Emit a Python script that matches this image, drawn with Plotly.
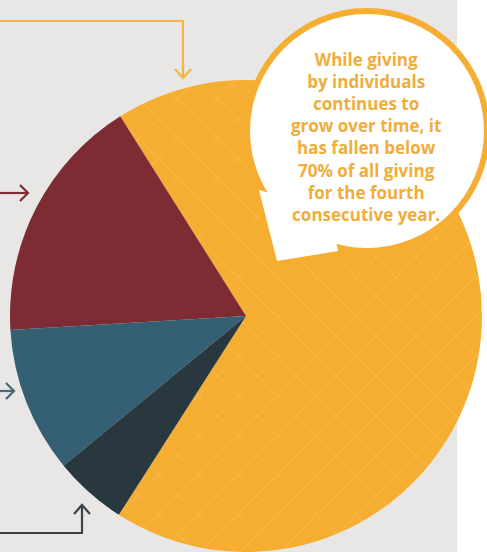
import plotly.graph_objects as go

# Data
categories = ["Individuals", "Foundations", "Bequests", "Corporations"]
shares = [68, 17, 10, 5]
slice_colors = ["#f6ae32", "#7e2b33", "#355f72", "#29373f"]
patterns = ["x", "", "", ""]
callout_lines = ["While giving", "by individuals", "continues to", "grow over time, it",
                 "has fallen below", "70% of all giving", "for the fourth", "consecutive year."]

W, H = 487, 552
YEL = "#f6ae32"

fig = go.Figure()
fig.add_trace(go.Pie(
    labels=categories, values=shares, sort=False,
    direction="counterclockwise", rotation=327.8,
    marker=dict(colors=slice_colors, line=dict(width=0),
                pattern=dict(shape=patterns, fgcolor="#fcc764", fgopacity=0.7,
                             bgcolor=slice_colors, size=28, solidity=0.05)),
    textinfo="none", hoverinfo="skip", showlegend=False,
    domain=dict(x=[10 / W, 482 / W], y=[0, 1 - 80 / H]),
))

def px(x):
    return x / W

def py(y):
    return 1 - y / H

shapes = []
# background grey panel
shapes.append(dict(type="rect", xref="paper", yref="paper", x0=0, x1=px(457), y0=0, y1=1,
                   fillcolor="#e8e7e5", line=dict(width=0), layer="below"))

def path(points):
    return "M " + " L ".join(f"{px(x):.5f},{py(y):.5f}" for x, y in points)

def line_shape(points, color):
    shapes.append(dict(type="path", xref="paper", yref="paper", path=path(points),
                       line=dict(color=color, width=2.2), layer="below"))

# yellow arrow (top)
line_shape([(0, 21), (183, 21), (183, 77)], "#f5b445")
line_shape([(175, 69), (183, 78), (191, 69)], "#f5b445")
# red arrow
line_shape([(0, 193), (28, 193)], "#7e2b33")
line_shape([(20, 185), (28, 193), (20, 201)], "#7e2b33")
# teal arrow
line_shape([(0, 391), (14, 391)], "#4a6879")
line_shape([(6, 383), (14, 391), (6, 399)], "#4a6879")
# bottom arrow
line_shape([(0, 533), (82, 533), (82, 506)], "#3b4349")
line_shape([(74, 514), (82, 505), (90, 514)], "#3b4349")

# speech bubble
cx, cy, r = 367, 131, 117
ring = 6
shapes.append(dict(type="circle", xref="paper", yref="paper",
                   x0=px(cx - r - ring), x1=px(cx + r + ring), y0=py(cy + r + ring), y1=py(cy - r - ring),
                   fillcolor=YEL, line=dict(width=0), layer="above"))
shapes.append(dict(type="path", xref="paper", yref="paper",
                   path=path([(252, 190), (271, 268), (345, 257), (330, 215)]) + " Z",
                   fillcolor=YEL, line=dict(width=0), layer="above"))
shapes.append(dict(type="circle", xref="paper", yref="paper",
                   x0=px(cx - r), x1=px(cx + r), y0=py(cy + r), y1=py(cy - r),
                   fillcolor="white", line=dict(width=0), layer="above"))
shapes.append(dict(type="path", xref="paper", yref="paper",
                   path=path([(259, 190), (277, 261), (338, 251), (330, 210)]) + " Z",
                   fillcolor="white", line=dict(width=0), layer="above"))

fig.update_layout(
    width=W, height=H, margin=dict(l=0, r=0, t=0, b=0),
    paper_bgcolor="white", plot_bgcolor="white",
    shapes=shapes,
    annotations=[dict(x=px(366), y=py(137), xref="paper", yref="paper",
                      text="<br>".join(callout_lines), showarrow=False,
                      font=dict(family="Open Sans", size=17, color="#f0ad3c", weight="bold"),
                      align="center", xanchor="center", yanchor="middle")],
)
fig.write_html("out.html")
